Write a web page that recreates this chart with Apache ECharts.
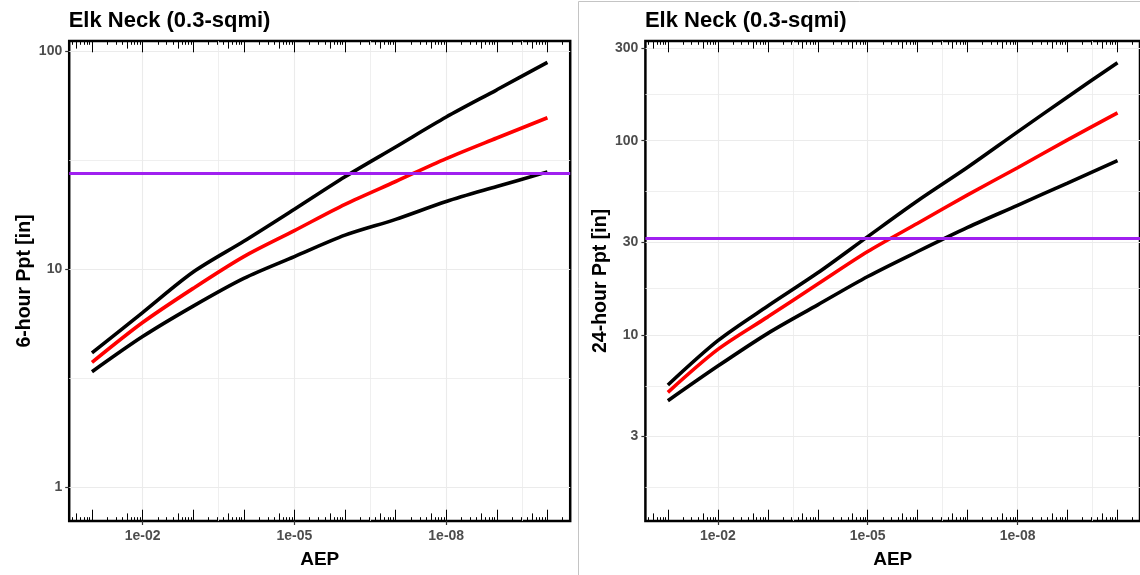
<!DOCTYPE html>
<html>
<head>
<meta charset="utf-8">
<script src="https://cdn.jsdelivr.net/npm/echarts@6/dist/echarts.min.js"></script>
<style>
  html, body { margin: 0; padding: 0; background: #ffffff; }
  #chart { width: 1140px; height: 575px; }
</style>
</head>
<body>
<div id="chart"></div>
<script>
// Annual exceedance probabilities of the frequency curve points
const aep = [1e-1, 1e-2, 1e-3, 1e-4, 1e-5, 1e-6, 1e-7, 1e-8, 1e-9, 1e-10];

// 6-hour precipitation depth [in]: median estimate and uncertainty bounds
const ppt6Median = [3.73, 5.68, 8.15, 11.4, 15.0, 19.8, 25.2, 32.1, 39.9, 49.4];
const ppt6Upper  = [4.12, 6.31, 9.68, 13.4, 18.8, 26.5, 36.3, 49.8, 66.4, 88.7];
const ppt6Lower  = [3.38, 4.90, 6.76, 9.06, 11.4, 14.3, 16.9, 20.4, 23.9, 27.9];
const pmp6 = 27.5;

// 24-hour precipitation depth [in]
const ppt24Median = [5.07, 8.43, 12.4, 18.3, 26.9, 37.6, 52.6, 72.6, 101, 139];
const ppt24Upper  = [5.53, 9.35, 14.1, 20.9, 32.1, 49.1, 73.0, 111, 168, 252];
const ppt24Lower  = [4.59, 6.92, 10.2, 14.3, 20.0, 26.9, 35.8, 46.5, 60.5, 78.9];
const pmp24 = 31.5;

// Axis breaks
const xBreaksAep = [1e-2, 1e-5, 1e-8];
const xBreakLabels = ['1e-02', '1e-05', '1e-08'];
const yBreaks6 = [1, 10, 100];
const yBreaks24 = [3, 10, 30, 100, 300];

// Axes work in log space: x = -log10(AEP) (so probabilities fall to the right), y = log10(depth)
const tx = v => -Math.log10(v);
const ty = v => Math.log10(v);

const FONT = 'Liberation Sans, Arial, sans-serif';
const X_MIN = 0.55, X_MAX = 10.45;
const GRID_COLOR = '#ebebeb';

function minorBetween(vals) {
  // midpoints between breaks, plus one step beyond each end
  const out = [];
  const step = vals[1] - vals[0];
  const ext = [vals[0] - step, ...vals, vals[vals.length - 1] + step];
  for (let i = 0; i < ext.length - 1; i++) out.push((ext[i] + ext[i + 1]) / 2);
  return out;
}

// log tick marks drawn inside the panel along top and bottom edges
function logTickValues(kind) {
  const vals = [];
  for (let k = 0; k <= 11; k++) {
    if (kind === 'long') vals.push(k);
    else if (kind === 'mid') vals.push(k + Math.log10(5));
    else [2, 3, 4, 6, 7, 8, 9].forEach(m => vals.push(k + Math.log10(m)));
  }
  return vals.filter(v => v >= X_MIN && v <= X_MAX);
}

const panels = [
  { left: 69.2, yMin: -0.156, yMax: 2.046, yBreaks: yBreaks6, name: '6-hour Ppt [in]',
    median: ppt6Median, upper: ppt6Upper, lower: ppt6Lower, pmp: pmp6 },
  { left: 645.4, yMin: 0.043, yMax: 2.513, yBreaks: yBreaks24, name: '24-hour Ppt [in]',
    median: ppt24Median, upper: ppt24Upper, lower: ppt24Lower, pmp: pmp24 }
];

const grid = [], xAxis = [], yAxis = [], series = [], title = [];

panels.forEach((p, g) => {
  grid.push({
    left: p.left, top: 41, width: 501, height: 480,
    show: true, borderColor: '#000', borderWidth: 2.5, backgroundColor: '#fff'
  });

  title.push({
    text: 'Elk Neck (0.3-sqmi)', left: p.left - 0.5, top: 10, padding: 0,
    textStyle: { fontFamily: FONT, fontSize: 22, fontWeight: 'bold', color: '#000' }
  });

  const xMainIdx = xAxis.length;
  const xVals = xBreaksAep.map(tx);
  xAxis.push({
    gridIndex: g, type: 'value', min: X_MIN, max: X_MAX, position: 'bottom',
    axisLine: { show: false, onZero: false },
    axisTick: { show: true, inside: false, length: 4, customValues: xVals,
                lineStyle: { color: '#333', width: 1.2 } },
    axisLabel: { show: true, customValues: xVals, margin: 8,
                 formatter: v => xBreakLabels[xVals.findIndex(a => Math.abs(a - v) < 1e-6)],
                 color: '#4d4d4d', fontFamily: FONT, fontWeight: 'bold', fontSize: 14 },
    splitLine: { show: true, lineStyle: { color: GRID_COLOR, width: 1.1 } },
    name: 'AEP', nameLocation: 'middle', nameGap: 29,
    nameTextStyle: { fontFamily: FONT, fontWeight: 'bold', fontSize: 19, color: '#000' }
  });
  const xMinor = minorBetween(xVals).filter(v => v > X_MIN && v < X_MAX);
  xAxis.push({
    gridIndex: g, type: 'value', min: X_MIN, max: X_MAX, position: 'bottom',
    axisLine: { show: false, onZero: false }, axisTick: { show: false, customValues: xMinor },
    axisLabel: { show: false, customValues: xMinor },
    splitLine: { show: true, lineStyle: { color: GRID_COLOR, width: 0.8 } }
  });
  [['long', 11.3], ['mid', 7.6], ['short', 3.8]].forEach(([kind, len]) => {
    const vals = logTickValues(kind);
    ['bottom', 'top'].forEach(pos => {
      xAxis.push({
        gridIndex: g, type: 'value', min: X_MIN, max: X_MAX, position: pos,
        axisLine: { show: false, onZero: false },
        axisTick: { show: true, inside: true, length: len, customValues: vals,
                    lineStyle: { color: '#000', width: 1 } },
        axisLabel: { show: false, customValues: vals },
        splitLine: { show: false }
      });
    });
  });

  const yMainIdx = yAxis.length;
  const yVals = p.yBreaks.map(ty);
  yAxis.push({
    gridIndex: g, type: 'value', min: p.yMin, max: p.yMax, position: 'left',
    axisLine: { show: false, onZero: false },
    axisTick: { show: true, inside: false, length: 4, customValues: yVals,
                lineStyle: { color: '#333', width: 1.2 } },
    axisLabel: { show: true, customValues: yVals, margin: 7,
                 formatter: v => String(Math.round(Math.pow(10, v))),
                 color: '#4d4d4d', fontFamily: FONT, fontWeight: 'bold', fontSize: 14 },
    splitLine: { show: true, lineStyle: { color: GRID_COLOR, width: 1.1 } },
    name: p.name, nameLocation: 'middle', nameGap: 35, nameRotate: 90,
    nameTextStyle: { fontFamily: FONT, fontWeight: 'bold', fontSize: 19.5, color: '#000' }
  });
  const yMinor = minorBetween(yVals).filter(v => v > p.yMin && v < p.yMax);
  yAxis.push({
    gridIndex: g, type: 'value', min: p.yMin, max: p.yMax, position: 'left',
    axisLine: { show: false, onZero: false }, axisTick: { show: false, customValues: yMinor },
    axisLabel: { show: false, customValues: yMinor },
    splitLine: { show: true, lineStyle: { color: GRID_COLOR, width: 0.8 } }
  });

  const toPts = vals => aep.map((a, i) => [tx(a), ty(vals[i])]);
  const lineSeries = (vals, color, extra) => Object.assign({
    type: 'line', xAxisIndex: xMainIdx, yAxisIndex: yMainIdx,
    data: toPts(vals), showSymbol: false, smooth: 0.3,
    lineStyle: { color: color, width: 3.6, cap: 'butt' }, clip: true, silent: true
  }, extra || {});

  series.push(lineSeries(p.upper, '#000'));
  series.push(lineSeries(p.lower, '#000'));
  series.push(lineSeries(p.median, '#ff0000', {
    markLine: {
      silent: true, symbol: 'none', label: { show: false },
      lineStyle: { color: '#a020f0', width: 3, type: 'solid' },
      data: [{ yAxis: ty(p.pmp) }]
    }
  }));
});

const chart = echarts.init(document.getElementById('chart'), null, { renderer: 'canvas' });
chart.setOption({
  animation: false,
  backgroundColor: '#fff',
  title: title,
  grid: grid,
  xAxis: xAxis,
  yAxis: yAxis,
  series: series,
  graphic: [{
    type: 'rect', silent: true, z: 100,
    shape: { x: 578.5, y: 1.5, width: 700, height: 700 },
    style: { fill: 'none', stroke: '#c4c4c4', lineWidth: 1 }
  }]
});
</script>
</body>
</html>
